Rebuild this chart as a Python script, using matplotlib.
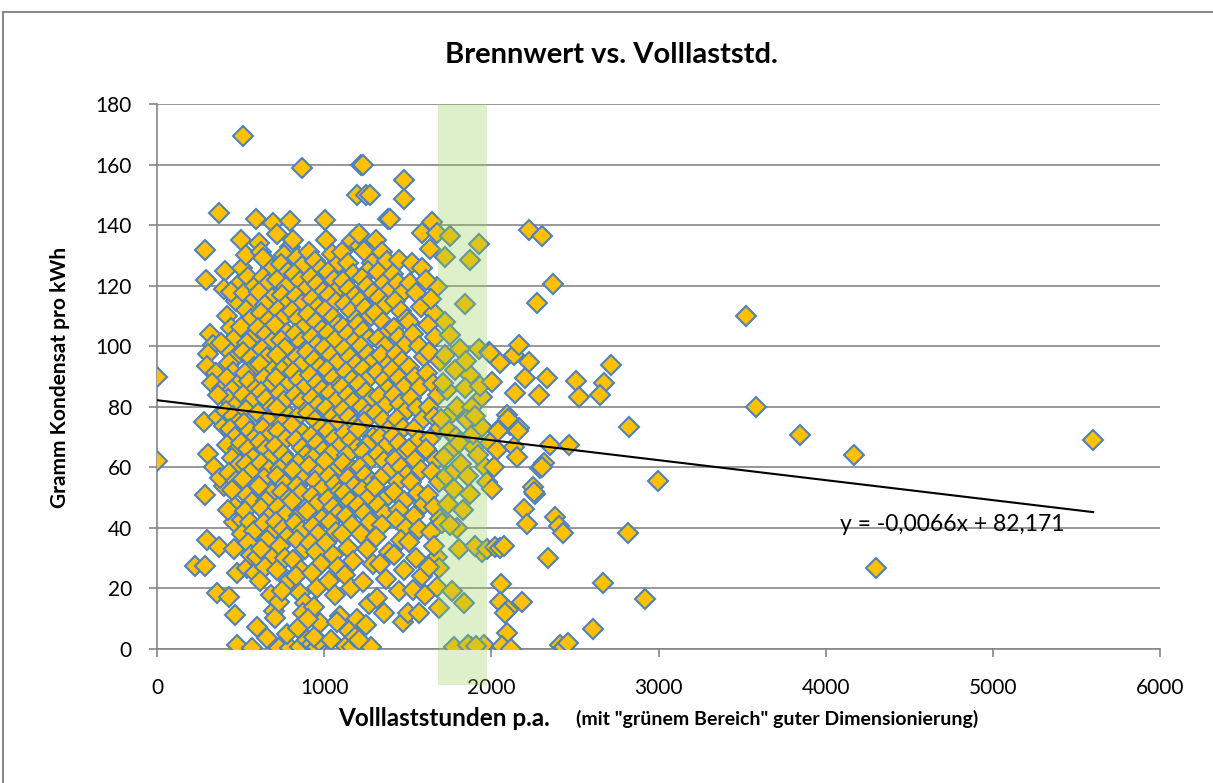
import matplotlib
matplotlib.use("Agg")
import matplotlib.pyplot as plt
from matplotlib.lines import Line2D

plt.rcParams['font.family'] = ['Lato', 'DejaVu Sans']

# --- data (Volllaststunden, Gramm Kondensat pro kWh) ---
pts_0_500 = [(0, 90), (0, 62), (227, 27.4), (287, 27.4), (299, 36), (371, 33.7), (287, 51), (401, 54),
             (359, 18.5), (431, 17.2), (287, 131.8), (293, 122), (371, 144), (407, 125), (401, 119),
             (496, 121), (318, 104), (334, 100.5), (306, 97.5), (301, 93.5), (352, 91), (327, 88),
             (389, 86), (283, 75), (362, 76.5), (398, 73.5), (303, 64.5), (342, 60), (379, 56.5),
             (418, 110), (443, 106), (462, 102.5), (411, 99.5), (473, 96.5), (432, 94.5), (456, 91.5),
             (417, 89.5), (482, 87.5), (447, 85.5), (426, 82.5), (471, 80.5), (412, 78.5), (452, 77),
             (491, 75), (437, 72.5), (466, 70), (421, 67.5), (483, 66), (446, 63), (494, 61), (431, 58),
             (472, 55.5), (451, 52.5), (467, 47), (461, 42), (508, 42.6), (508, 38), (479, 25),
             (467, 11.2), (479, 1.3), (472, 115), (441, 118), (385, 101), (365, 84), (458, 33), (425, 46)]

pts_500_700 = [(514, 169.4), (502, 135), (568, 0.3), (538, 26.7), (586, 25), (510, 126), (545, 123),
               (520, 117.5), (575, 115), (530, 112), (560, 109), (505, 106.5), (590, 104), (540, 101),
               (515, 98), (565, 96), (580, 93), (525, 91), (550, 88.5), (595, 86), (512, 84), (570, 82),
               (535, 79), (585, 77), (520, 74.5), (555, 72), (590, 70), (505, 68), (545, 66), (575, 63),
               (530, 61), (560, 58.5), (515, 56), (590, 54), (540, 51), (570, 48.5), (525, 45.5),
               (555, 42), (580, 39), (545, 35), (565, 31), (598, 7.3), (598, 30.5), (530, 130), (585, 120),
               (592, 142), (610, 134), (658, 3.6), (694, 140.6), (620, 131), (650, 128.5), (680, 126),
               (635, 123), (665, 120.5), (610, 118), (690, 116), (645, 113.5), (625, 111), (670, 108.5),
               (605, 106), (655, 104), (685, 101.5), (630, 99), (660, 96.5), (615, 94), (695, 92),
               (640, 89.5), (675, 87), (620, 85), (650, 82.5), (690, 80), (605, 78), (665, 75.5),
               (635, 73), (680, 71), (615, 68.5), (655, 66), (695, 64), (625, 61.5), (670, 59),
               (640, 56.5), (610, 54), (685, 51.5), (650, 49), (620, 46.5), (675, 44), (640, 41.5),
               (700, 39), (660, 36), (625, 33), (690, 30), (645, 27), (615, 22.5), (680, 18), (700, 12.5),
               (635, 129)]

pts_700_900 = [(706, 10.2), (730, 15.5), (730, 0.3), (796, 0.3), (796, 141.3), (796, 132.8), (720, 137),
               (760, 130), (740, 127), (785, 124.5), (715, 122), (770, 119.5), (745, 117), (790, 114.5),
               (725, 112), (760, 109.5), (705, 107), (780, 104.5), (740, 102), (765, 99.5), (720, 97),
               (795, 94.5), (750, 92), (710, 89.5), (775, 87), (735, 84.5), (760, 82), (715, 79.5),
               (790, 77), (745, 74.5), (725, 72), (770, 69.5), (705, 67), (755, 64.5), (785, 62),
               (735, 59.5), (715, 57), (765, 54.5), (745, 52), (790, 49.5), (725, 47), (770, 44.5),
               (710, 42), (755, 39.5), (780, 37), (735, 34), (765, 30), (720, 26), (790, 22.5), (750, 19),
               (775, 5), (867, 158.8), (855, 18.5), (885, 15.2), (815, 135), (840, 129), (870, 126.5),
               (820, 124), (855, 121.5), (890, 119), (830, 116.5), (865, 114), (810, 111.5), (845, 109),
               (880, 106.5), (825, 104), (860, 101.5), (895, 99), (835, 96.5), (870, 94), (815, 91.5),
               (850, 89), (885, 86.5), (825, 84), (860, 81.5), (895, 79), (840, 76.5), (810, 74),
               (875, 71.5), (830, 69), (865, 66.5), (890, 64), (845, 61.5), (815, 59), (880, 56.5),
               (835, 54), (860, 51.5), (805, 49), (890, 46.5), (850, 44), (825, 41.5), (870, 39),
               (840, 36), (885, 33), (815, 29.5), (860, 26), (830, 24), (875, 12), (845, 7), (880, 1.5),
               (855, 0.5), (898, 3)]

pts_900_1100 = [(939, 14), (975, 8.6), (1005, 141.7), (910, 131), (945, 128), (980, 125.5), (920, 123),
                (960, 120.5), (995, 118), (930, 115.5), (965, 113), (905, 110.5), (950, 108), (985, 105.5),
                (925, 103), (960, 100.5), (900, 98), (940, 95.5), (975, 93), (915, 90.5), (955, 88),
                (990, 85.5), (930, 83), (965, 80.5), (905, 78), (945, 75.5), (980, 73), (920, 70.5),
                (960, 68), (995, 65.5), (935, 63), (910, 60.5), (970, 58), (945, 55.5), (985, 53),
                (925, 50.5), (955, 48), (900, 45.5), (990, 43), (935, 40.5), (965, 38), (915, 35),
                (950, 32), (980, 28), (925, 25), (960, 20), (905, 10), (930, 1.5), (955, 0.5), (972, 2.5),
                (940, 4), (1010, 135), (1045, 130.5), (1080, 127), (1020, 124.5), (1060, 122),
                (1095, 119.5), (1030, 117), (1070, 114.5), (1005, 112), (1050, 109.5), (1085, 107),
                (1025, 104.5), (1065, 102), (1000, 99.5), (1040, 97), (1075, 94.5), (1015, 92),
                (1055, 89.5), (1090, 87), (1035, 84.5), (1070, 82), (1010, 79.5), (1050, 77), (1085, 74.5),
                (1025, 72), (1060, 69.5), (1095, 67), (1040, 64.5), (1005, 62), (1075, 59.5), (1030, 57),
                (1065, 54.5), (1090, 52), (1020, 49.5), (1055, 47), (1080, 44.5), (1035, 42),
                (1070, 38.5), (1010, 35), (1050, 31), (1085, 27), (1030, 22.5), (1065, 18), (1095, 11),
                (1077, 9), (1040, 3)]

pts_1100_1300 = [(1166, 134.8), (1196, 150), (1105, 131), (1140, 127.5), (1175, 124), (1115, 121.5),
                 (1150, 119), (1185, 116.5), (1125, 114), (1160, 111.5), (1195, 109), (1110, 106.5),
                 (1145, 104), (1180, 101.5), (1120, 99), (1155, 96.5), (1190, 94), (1130, 91.5), (1165, 89),
                 (1105, 86.5), (1140, 84), (1175, 81.5), (1115, 79), (1150, 76.5), (1185, 74), (1125, 71.5),
                 (1160, 69), (1195, 66.5), (1135, 64), (1110, 61.5), (1170, 59), (1145, 56.5), (1180, 54),
                 (1120, 51.5), (1155, 49), (1190, 46.5), (1130, 44), (1165, 41), (1105, 38), (1140, 33.5),
                 (1175, 29), (1125, 24.5), (1160, 20), (1196, 10), (1150, 6), (1130, 1), (1165, 0.5),
                 (1185, 4), (1214, 133), (1220, 160), (1232, 160), (1250, 150), (1274, 150), (1286, 127.5),
                 (1210, 137), (1240, 131.5), (1265, 125), (1225, 122.5), (1255, 120), (1290, 117.5),
                 (1215, 115), (1245, 112.5), (1280, 110), (1205, 107.5), (1235, 105), (1270, 102.5),
                 (1220, 100), (1260, 97.5), (1295, 95), (1230, 92.5), (1275, 90), (1210, 87.5), (1250, 85),
                 (1285, 82.5), (1225, 80), (1265, 77.5), (1240, 75), (1205, 72.5), (1290, 70), (1255, 67.5),
                 (1230, 65), (1275, 62.5), (1215, 60), (1245, 57.5), (1285, 55), (1225, 52.5), (1260, 50),
                 (1205, 47.5), (1240, 45), (1275, 42), (1220, 38), (1255, 33), (1290, 28), (1235, 22),
                 (1270, 15), (1250, 8), (1280, 0.5), (1210, 3)]

pts_1300_1600 = [(1382, 142), (1394, 142), (1310, 135), (1345, 131), (1375, 128), (1320, 124.5), (1360, 121),
                 (1395, 118.5), (1330, 116), (1370, 113.6), (1305, 111), (1350, 108), (1385, 105),
                 (1325, 102.5), (1365, 100), (1340, 97), (1390, 94), (1315, 91.5), (1355, 89), (1380, 86),
                 (1330, 83.5), (1370, 80.5), (1310, 78), (1350, 75.5), (1395, 73), (1335, 70), (1375, 67.5),
                 (1320, 64.5), (1360, 62), (1395, 59), (1340, 56.5), (1305, 53.5), (1380, 50.5),
                 (1325, 47.5), (1365, 44.5), (1345, 41), (1310, 37), (1390, 32), (1335, 28), (1370, 23),
                 (1315, 17), (1355, 12), (1448, 128.5), (1477, 155), (1477, 148.6), (1410, 124),
                 (1440, 121), (1470, 118), (1425, 115), (1460, 111.5), (1495, 109), (1415, 106), (1450, 103),
                 (1485, 100.5), (1430, 97.5), (1465, 95), (1405, 92), (1445, 89.5), (1480, 86.5), (1420, 84),
                 (1455, 81), (1490, 78.5), (1435, 76), (1470, 73), (1410, 70.5), (1450, 68), (1485, 65),
                 (1425, 62.5), (1460, 60), (1495, 57.5), (1440, 55), (1415, 52), (1475, 49), (1450, 46),
                 (1430, 43), (1490, 40), (1460, 36), (1420, 31), (1480, 26), (1445, 19), (1470, 9),
                 (1500, 12), (1507, 108), (1525, 127.5), (1585, 126), (1585, 137.4), (1515, 121),
                 (1550, 117.5), (1580, 113), (1530, 104), (1565, 100), (1595, 96.5), (1510, 93), (1545, 90),
                 (1575, 86.5), (1520, 83), (1555, 79.5), (1590, 76), (1535, 72.5), (1570, 69), (1505, 66),
                 (1545, 62.5), (1580, 59), (1520, 55), (1560, 51.5), (1595, 48), (1535, 44), (1570, 39.5),
                 (1510, 35.5), (1550, 30), (1585, 24), (1530, 19.5), (1565, 12), (1603, 17.8)]

pts_1600_2000 = [(1645, 141), (1633, 132), (1675, 137.4), (1675, 119.6), (1657, 111), (1610, 122),
                 (1640, 115.5), (1620, 107), (1665, 103), (1630, 98), (1690, 95), (1615, 91), (1650, 87.5),
                 (1680, 84), (1625, 80), (1660, 76.5), (1695, 73), (1635, 69.5), (1610, 66), (1670, 62.5),
                 (1645, 58.5), (1685, 55), (1620, 51), (1655, 47), (1690, 43), (1640, 38.5), (1675, 30.4),
                 (1687, 26.8), (1675, 20.5), (1687, 13.5), (1660, 34), (1625, 27), (1723, 129.5),
                 (1753, 136.4), (1723, 108), (1753, 103.7), (1735, 85.5), (1765, 78), (1795, 80),
                 (1753, 65.5), (1717, 63.4), (1705, 41.6), (1795, 40), (1750, 41), (1807, 33), (1765, 19.2),
                 (1777, 0.5), (1720, 97), (1780, 92), (1710, 88), (1745, 72), (1790, 70), (1730, 57),
                 (1775, 53), (1785, 59), (1740, 48), (1700, 76), (1842, 114), (1872, 128.5), (1872, 90.5),
                 (1842, 86.2), (1884, 80), (1854, 75.6), (1807, 68), (1896, 66.7), (1836, 15.2),
                 (1872, 51.2), (1820, 61), (1860, 57), (1890, 71), (1815, 99), (1850, 95), (1880, 0.5),
                 (1860, 1.3), (1830, 46), (1926, 133.7), (1926, 99), (1986, 98), (1944, 83.2), (1944, 73.3),
                 (1944, 32), (1902, 34), (1956, 1.3), (1910, 1), (1992, 97.8), (1960, 60), (1920, 64),
                 (1975, 55), (1990, 68), (1930, 87), (1905, 77)]

pts_2000_up = [(2004, 88.2), (2052, 94.4), (2136, 97), (2165, 100.4), (2225, 94.8), (2201, 89.5),
               (2333, 89.5), (2142, 84.5), (2285, 84), (2094, 77.3), (2112, 74), (2165, 73), (2052, 73),
               (2034, 65.7), (2136, 66.7), (2154, 63.4), (2351, 67.4), (2465, 67.4), (2315, 61.4),
               (2291, 59.8), (2016, 60), (2004, 52.8), (2249, 53.5), (2261, 51.2), (2195, 46.2),
               (2213, 41.3), (2381, 43.6), (2405, 40.5), (2429, 38.3), (1974, 33), (2020, 33.7),
               (2052, 33.4), (2076, 34), (2339, 30), (2058, 21.5), (2052, 15.5), (2100, 13), (2184, 15.5),
               (2082, 12), (2094, 5.2), (2064, 1), (2118, 0), (2411, 1.3), (2435, 0.5), (2459, 2),
               (2225, 138.4), (2303, 136.4), (2369, 120.5), (2273, 114.3), (2716, 93.8), (2674, 87.8),
               (2650, 84), (2506, 88.5), (2524, 83.2), (2823, 73.3), (2997, 55.5), (2817, 38.3),
               (2668, 21.8), (2919, 16.5), (2608, 6.6), (3523, 110), (3583, 80), (3846, 70.7), (4169, 64),
               (4301, 26.7), (5599, 69), (2040, 72), (2160, 72), (2100, 76), (2255, 51.8), (2303, 60)]

all_pts = (pts_0_500 + pts_500_700 + pts_700_900 + pts_900_1100
           + pts_1100_1300 + pts_1300_1600 + pts_1600_2000 + pts_2000_up)
stunden = [p[0] for p in all_pts]
kondensat = [p[1] for p in all_pts]

# linear trend as given in the chart
slope, intercept = -0.0066, 82.171
trend_x = [0, 5600]

# "green area" of good sizing
green_from, green_to = 1680, 1975

# --- figure ---
fig = plt.figure(figsize=(12.13, 7.83), dpi=100)
ax = fig.add_axes([157 / 1213, 1 - 649 / 783, (1160 - 157) / 1213, (649 - 104) / 783])

ax.plot(stunden, kondensat, linestyle='none', marker='D', markersize=10.5,
        markerfacecolor='#FFC000', markeredgecolor='#4F81BD', markeredgewidth=1.5, zorder=3)

# band sits on top of the markers and runs a bit below the axis
ax.fill_between([green_from, green_to], -12, 180, color='#92D050', alpha=0.3,
                linewidth=0, zorder=4, clip_on=False)

ax.plot(trend_x, [intercept + slope * x for x in trend_x], color='black', linewidth=1.5, zorder=5)
ax.text(4760, 41, 'y = -0,0066x + 82,171', fontsize=16.5, ha='center', va='center', zorder=6)

ax.set_xlim(0, 6000)
ax.set_ylim(0, 180)
ax.set_xticks(range(0, 6001, 1000))
ax.set_yticks(range(0, 181, 20))
ax.yaxis.grid(True, color='#868686', linewidth=1.2, zorder=0)
ax.set_axisbelow(True)

for side in ['top', 'right']:
    ax.spines[side].set_visible(False)
for side in ['left', 'bottom']:
    ax.spines[side].set_color('#868686')
    ax.spines[side].set_linewidth(1.2)
ax.tick_params(axis='both', direction='out', length=6, color='#868686', width=1.2,
               labelsize=15, labelcolor='black')
ax.tick_params(axis='x', pad=15)
ax.tick_params(axis='y', pad=12)

# titles
fig.text(611 / 1213, 1 - 55 / 783, 'Brennwert vs. Volllaststd.', fontsize=21, fontweight='bold',
         ha='center', va='center')
fig.text(60 / 1213, 1 - 377 / 783, 'Gramm Kondensat pro kWh', fontsize=15, fontweight='bold',
         rotation=90, ha='center', va='center')
fig.text(338 / 1213, 1 - 718 / 783, 'Volllaststunden p.a.', fontsize=17.5, fontweight='bold',
         ha='left', va='center')
fig.text(978 / 1213, 1 - 719 / 783, '(mit "grünem Bereich" guter Dimensionierung)', fontsize=14,
         fontweight='bold', ha='right', va='center')

# chart area border
fig.add_artist(Line2D([3 / 1213, 1], [1 - 12 / 783, 1 - 12 / 783], color='#898989', linewidth=1.5))
fig.add_artist(Line2D([3 / 1213, 3 / 1213], [0, 1 - 12 / 783], color='#898989', linewidth=1.5))

fig.savefig('out.png', dpi=100)
